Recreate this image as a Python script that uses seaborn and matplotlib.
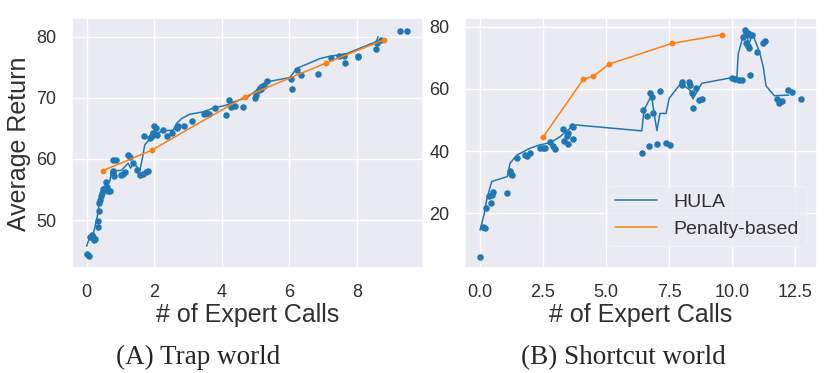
"""
Two panels: HULA vs penalty-based, average return over number of expert calls.
"""

## Import packages
import pandas as pd
import matplotlib
matplotlib.use('Agg')
import matplotlib.pyplot as plt
import seaborn as sns
from matplotlib.lines import Line2D


## Data
# (A) Trap world - HULA runs (dots)
trap_pts_x = [0.0, 0.08, 0.1, 0.17, 0.2, 0.25, 0.23, 0.33, 0.34, 0.36, 0.37, 0.39, 0.43, 0.47,
              0.5, 0.55, 0.6, 0.64, 0.69, 0.56, 0.77, 0.79, 0.81, 0.79, 0.87, 1.01, 1.08, 1.13,
              1.23, 1.28, 1.38, 1.5, 1.58, 1.68, 1.75, 1.82, 1.7, 1.87, 1.92, 1.97, 2.0, 2.04,
              2.09, 2.27, 2.39, 2.53, 2.66, 2.71, 2.88, 3.11, 3.48, 3.53, 3.63, 3.8, 4.12, 4.2,
              4.26, 4.38, 4.63, 4.98, 5.0, 5.1, 5.15, 5.24, 5.34, 6.04, 6.06, 6.23, 6.35, 6.85,
              7.22, 7.47, 7.6, 7.63, 8.02, 8.04, 8.55, 8.6, 8.72, 9.26, 9.49]
trap_pts_y = [44.4, 44.1, 47.2, 47.6, 47.2, 46.9, 46.8, 48.9, 49.9, 51.5, 52.8, 53.2, 54.0, 54.5,
              55.1, 55.3, 55.4, 54.8, 54.7, 56.3, 58.1, 57.7, 57.2, 59.8, 59.8, 57.3, 57.5, 57.8,
              60.7, 60.3, 59.4, 58.2, 57.3, 57.6, 57.8, 58.0, 63.7, 63.5, 63.8, 64.3, 65.4, 65.0,
              63.9, 64.8, 63.8, 64.3, 65.1, 65.3, 65.4, 66.2, 67.4, 67.5, 67.4, 68.4, 67.2, 69.7,
              68.5, 68.6, 68.5, 70.0, 70.4, 71.2, 71.5, 71.9, 72.7, 73.0, 71.4, 74.6, 73.7, 73.9,
              76.5, 76.9, 76.8, 75.7, 76.6, 76.8, 78.0, 78.9, 79.5, 80.9, 81.0]

# (A) Trap world - HULA curve
trap_hula_x = [0.0, 0.1, 0.2, 0.25, 0.32, 0.37, 0.44, 0.54, 0.69, 0.74, 0.84, 1.03, 1.23, 1.3,
               1.38, 1.58, 1.66, 1.72, 1.85, 1.92, 2.07, 2.27, 2.56, 2.66, 2.81, 3.05, 3.45,
               3.74, 4.14, 4.34, 4.73, 5.02, 5.12, 5.32, 6.01, 6.21, 6.9, 7.19, 7.68, 8.04,
               8.57, 8.62]
trap_hula_y = [45.7, 47.3, 47.7, 49.0, 50.7, 52.6, 54.2, 55.3, 56.4, 58.0, 58.1, 58.1, 59.3, 58.5,
               59.3, 58.2, 60.4, 62.3, 63.1, 64.5, 64.2, 64.6, 64.7, 65.8, 66.6, 67.3, 67.7,
               68.3, 68.8, 69.3, 70.0, 71.2, 72.0, 72.6, 73.3, 74.8, 76.4, 76.8, 77.2, 78.0,
               79.2, 80.0]

# (A) Trap world - penalty-based
trap_pen_x = [0.49, 1.92, 4.69, 7.09, 8.8]
trap_pen_y = [58.1, 61.4, 70.2, 75.7, 79.5]

# (B) Shortcut world - HULA runs (dots)
short_pts_x = [0.0, 0.13, 0.2, 0.24, 0.42, 0.37, 0.46, 0.5, 1.06, 1.17, 1.22, 1.26, 1.46, 1.79,
               1.86, 1.98, 2.38, 2.51, 2.58, 2.78, 2.88, 2.98, 3.31, 3.33, 3.44, 3.5, 3.48,
               3.64, 3.7, 3.7, 6.42, 6.48, 6.61, 6.72, 6.75, 6.84, 6.88, 7.04, 7.14, 7.4, 7.54,
               8.0, 8.03, 8.3, 8.32, 8.4, 8.44, 8.57, 8.7, 8.8, 10.0, 10.13, 10.26, 10.4, 10.42,
               10.52, 10.58, 10.65, 10.72, 10.81, 10.56, 10.65, 10.68, 10.71, 10.98, 11.24,
               11.3, 11.8, 11.86, 12.0, 12.23, 12.4, 12.74]
short_pts_y = [6.0, 15.7, 15.2, 21.6, 23.2, 25.5, 26.0, 26.7, 26.6, 33.5, 32.5, 32.3, 37.9, 38.8,
               38.3, 39.3, 40.9, 41.1, 41.1, 43.0, 41.7, 40.7, 47.0, 43.2, 44.7, 45.7, 42.2,
               48.0, 47.7, 43.8, 39.5, 53.2, 51.3, 41.6, 58.6, 57.3, 52.1, 42.3, 59.3, 42.5, 42.0,
               62.3, 61.2, 62.3, 61.2, 58.6, 53.7, 60.2, 56.4, 56.7, 63.6, 63.3, 63.0, 62.8, 76.8,
               78.9, 77.6, 77.9, 77.3, 77.3, 74.8, 73.7, 73.2, 64.5, 72.0, 74.6,
               75.4, 56.6, 55.5, 56.2, 59.8, 59.0, 56.7]

# (B) Shortcut world - HULA curve
short_hula_x = [0.0, 0.17, 0.26, 0.46, 1.08, 1.19, 1.46, 1.98, 2.38, 2.78, 3.17, 3.57, 3.81,
                6.42, 6.51, 6.72, 6.81, 6.94, 7.02, 7.14, 7.38, 7.51, 7.97, 8.33, 8.45, 8.8,
                10.05, 10.19, 10.25, 10.38, 10.52, 10.68, 10.81, 11.11, 11.24, 11.35, 11.68, 12.25]
short_hula_y = [14.6, 20.0, 24.3, 30.2, 31.8, 36.1, 38.7, 40.9, 42.0, 42.7, 44.6, 47.3, 48.4,
                46.5, 53.2, 56.6, 57.5, 50.5, 46.6, 52.1, 52.1, 57.0, 61.8, 59.6, 56.8, 61.8,
                63.7, 63.4, 71.4, 75.2, 78.9, 74.4, 77.9, 71.4, 67.1, 61.0, 57.8, 58.0]

# (B) Shortcut world - penalty-based
short_pen_x = [2.51, 4.1, 4.5, 5.13, 7.6, 9.59]
short_pen_y = [44.6, 63.1, 64.1, 68.0, 74.6, 77.4]


## Define parameters for figure
label_size = 18
tick_size = 13
legend_size = 14
caption_size = 19.5
text_color = '#303030'


## Plot data using seaborn module
sns.set_theme(style='darkgrid')
plt.rcParams['font.family'] = ['Liberation Sans', 'DejaVu Sans']

colors = sns.color_palette('tab10')
blue, orange = colors[0], colors[1]

fig = plt.figure(figsize=(8.3, 3.73), dpi=100)
ax1 = fig.add_axes([0.0864, 0.2807, 0.4233, 0.6702])
ax2 = fig.add_axes([0.5602, 0.2807, 0.4237, 0.6702])

panels = [
    (ax1, trap_pts_x, trap_pts_y, trap_hula_x, trap_hula_y, trap_pen_x, trap_pen_y),
    (ax2, short_pts_x, short_pts_y, short_hula_x, short_hula_y, short_pen_x, short_pen_y),
]

for ax, px, py, hx, hy, qx, qy in panels:
    hula = pd.DataFrame({'calls': hx, 'ret': hy})
    pts = pd.DataFrame({'calls': px, 'ret': py})
    pen = pd.DataFrame({'calls': qx, 'ret': qy})
    sns.lineplot(data=hula, x='calls', y='ret', sort=False, estimator=None,
                 color=blue, linewidth=1.1, ax=ax)
    sns.scatterplot(data=pts, x='calls', y='ret', color=blue, s=22,
                    linewidth=0, ax=ax)
    sns.lineplot(data=pen, x='calls', y='ret', sort=False, estimator=None,
                 color=orange, linewidth=1.1, marker='o', markersize=4.2,
                 markeredgewidth=0, ax=ax)
    ax.set_xlabel('# of Expert Calls', fontsize=label_size, color=text_color, labelpad=2)
    ax.set_ylabel('')
    ax.tick_params(labelsize=tick_size, colors=text_color, pad=5)

# Axis limits and ticks
ax1.set_xlim(-0.44, 9.95)
ax1.set_ylim(42.1, 83.0)
ax1.set_xticks([0, 2, 4, 6, 8])
ax1.set_yticks([50, 60, 70, 80])
ax1.set_ylabel('Average Return', fontsize=label_size, color=text_color, labelpad=4)

ax2.set_xlim(-0.6, 13.36)
ax2.set_ylim(2.3, 82.7)
ax2.set_xticks([0, 2.5, 5, 7.5, 10, 12.5])
ax2.set_xticklabels(['0.0', '2.5', '5.0', '7.5', '10.0', '12.5'])
ax2.set_yticks([20, 40, 60, 80])


## Configure legend
legend_elements = [Line2D([0], [0], color=blue, lw=1.1, label='HULA'),
                   Line2D([0], [0], color=orange, lw=1.1, label='Penalty-based')]
leg = ax2.legend(handles=legend_elements, loc='lower right', bbox_to_anchor=(0.97, 0.089),
                 borderaxespad=0, fontsize=legend_size, handlelength=2.2)
for t in leg.get_texts():
    t.set_color(text_color)
leg.get_frame().set_edgecolor('#f4f4f8')


## Panel captions
fig.text(0.239, 0.025, '(A) Trap world', ha='center', va='baseline',
         fontsize=caption_size, family=['Liberation Serif', 'DejaVu Serif'])
fig.text(0.751, 0.025, '(B) Shortcut world', ha='center', va='baseline',
         fontsize=caption_size, family=['Liberation Serif', 'DejaVu Serif'])


# Save figure
plt.savefig('out.png', dpi=100)
